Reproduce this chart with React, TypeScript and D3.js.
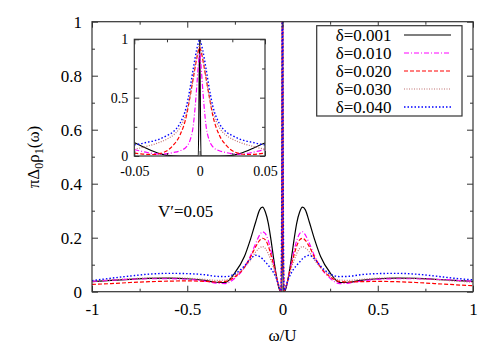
import { useEffect, useRef } from 'react';
import * as d3 from 'd3';

// main panel: omega/U grid and pi*Delta0*rho1 for each delta
const omegaMain = [
  -1, -0.9, -0.8, -0.7, -0.6, -0.5, -0.4, -0.35, -0.3, -0.25, -0.2, -0.17, -0.14, -0.12, -0.105, -0.09,
  -0.075, -0.06, -0.045, -0.03, -0.018, -0.008, -0.003, 0, 0.003, 0.008, 0.018, 0.03, 0.045, 0.06, 0.075,
  0.09, 0.105, 0.12, 0.14, 0.17, 0.2, 0.25, 0.3, 0.35, 0.4, 0.5, 0.6, 0.7, 0.8, 0.9, 1,
];
const mainD001 = [
  0.037, 0.042, 0.046, 0.049, 0.05, 0.048, 0.041, 0.035, 0.034, 0.07, 0.13, 0.19, 0.26, 0.303, 0.313, 0.295,
  0.255, 0.19, 0.115, 0.05, 0.012, 0.0, 0.0, 1.3, 0.0, 0.0, 0.012, 0.05, 0.115, 0.19, 0.255,
  0.295, 0.313, 0.303, 0.26, 0.19, 0.13, 0.07, 0.034, 0.035, 0.041, 0.048, 0.05, 0.049, 0.046, 0.042, 0.038,
];
const mainD010 = [
  0.038, 0.043, 0.046, 0.048, 0.048, 0.046, 0.038, 0.032, 0.03, 0.05, 0.09, 0.13, 0.18, 0.21, 0.222, 0.215,
  0.19, 0.15, 0.1, 0.05, 0.015, 0.002, 0.25, 1.3, 0.25, 0.002, 0.015, 0.05, 0.1, 0.15, 0.19,
  0.215, 0.222, 0.21, 0.18, 0.13, 0.09, 0.05, 0.03, 0.032, 0.038, 0.046, 0.048, 0.048, 0.046, 0.043, 0.038,
];
const mainD020 = [
  0.027, 0.03, 0.034, 0.037, 0.039, 0.04, 0.038, 0.036, 0.038, 0.055, 0.09, 0.125, 0.168, 0.19, 0.198, 0.192,
  0.17, 0.135, 0.095, 0.05, 0.017, 0.003, 0.35, 1.3, 0.35, 0.003, 0.017, 0.05, 0.095, 0.135, 0.17,
  0.192, 0.198, 0.19, 0.168, 0.125, 0.09, 0.055, 0.038, 0.036, 0.037, 0.038, 0.037, 0.034, 0.03, 0.026, 0.022,
];
const mainD030 = [
  0.038, 0.044, 0.048, 0.051, 0.052, 0.05, 0.045, 0.042, 0.043, 0.06, 0.09, 0.115, 0.148, 0.162, 0.167, 0.16,
  0.142, 0.115, 0.085, 0.048, 0.018, 0.004, 0.45, 1.3, 0.45, 0.004, 0.018, 0.048, 0.085, 0.115, 0.142,
  0.16, 0.167, 0.162, 0.148, 0.115, 0.09, 0.06, 0.043, 0.042, 0.045, 0.05, 0.051, 0.049, 0.045, 0.04, 0.035,
];
const mainD040 = [
  0.041, 0.05, 0.058, 0.065, 0.068, 0.067, 0.062, 0.057, 0.056, 0.066, 0.095, 0.12, 0.135, 0.13, 0.122, 0.11,
  0.098, 0.085, 0.068, 0.045, 0.02, 0.005, 0.55, 1.3, 0.55, 0.005, 0.02, 0.045, 0.068, 0.085, 0.098,
  0.11, 0.122, 0.13, 0.135, 0.12, 0.095, 0.066, 0.056, 0.057, 0.062, 0.067, 0.068, 0.065, 0.058, 0.05, 0.044,
];

// inset: zoom on the central peak
const omegaInset = [
  -0.05, -0.045, -0.04, -0.035, -0.03, -0.025, -0.02, -0.015, -0.01, -0.0075, -0.005, -0.0025, -0.001, 0,
  0.001, 0.0025, 0.005, 0.0075, 0.01, 0.015, 0.02, 0.025, 0.03, 0.035, 0.04, 0.045, 0.05,
];
const insetD001 = [
  0.115, 0.088, 0.062, 0.038, 0.018, 0.006, 0.001, 0, 0, 0, 0, 0, 0, 1.0,
  0, 0, 0, 0, 0, 0, 0.001, 0.006, 0.018, 0.038, 0.062, 0.088, 0.112,
];
const insetD010 = [
  0.055, 0.042, 0.03, 0.02, 0.016, 0.02, 0.03, 0.045, 0.08, 0.13, 0.25, 0.55, 0.78, 0.88,
  0.78, 0.55, 0.25, 0.13, 0.08, 0.045, 0.03, 0.02, 0.016, 0.02, 0.03, 0.042, 0.055,
];
const insetD020 = [
  0.025, 0.018, 0.014, 0.013, 0.022, 0.045, 0.095, 0.18, 0.35, 0.5, 0.66, 0.82, 0.9, 0.93,
  0.9, 0.82, 0.66, 0.5, 0.35, 0.18, 0.095, 0.045, 0.022, 0.013, 0.014, 0.018, 0.025,
];
const insetD030 = [
  0.058, 0.07, 0.085, 0.1, 0.12, 0.145, 0.18, 0.245, 0.38, 0.5, 0.66, 0.84, 0.92, 0.95,
  0.92, 0.84, 0.66, 0.5, 0.38, 0.245, 0.18, 0.145, 0.12, 0.1, 0.085, 0.07, 0.058,
];
const insetD040 = [
  0.095, 0.105, 0.118, 0.13, 0.148, 0.175, 0.21, 0.28, 0.43, 0.57, 0.74, 0.9, 0.97, 1.0,
  0.97, 0.9, 0.74, 0.57, 0.43, 0.28, 0.21, 0.175, 0.148, 0.13, 0.118, 0.105, 0.095,
];

const legendLabels = ['δ=0.001', 'δ=0.010', 'δ=0.020', 'δ=0.030', 'δ=0.040'];
const mainTicksX = [-1, -0.5, 0, 0.5, 1];
const mainTicksY = [0, 0.2, 0.4, 0.6, 0.8, 1];
const insetTicksX = [-0.05, 0, 0.05];
const insetTicksY = [0, 0.5, 1];

const styles = [
  { color: '#000000', dash: null, width: 1.2 },
  { color: '#ff00ff', dash: '5,2,1,2', width: 1.2 },
  { color: '#ff0000', dash: '4,2', width: 1.2 },
  { color: '#c07070', dash: '1,1.5', width: 1.2 },
  { color: '#0000ff', dash: '1.5,2', width: 1.4 },
];

const FONT = '"Liberation Serif", "Times New Roman", serif';

export default function App() {
  const svgRef = useRef<SVGSVGElement>(null);

  useEffect(() => {
    if (!svgRef.current) return;
    const svg = d3.select(svgRef.current);
    svg.selectAll('*').remove();

    const mainSeries = [mainD001, mainD010, mainD020, mainD030, mainD040];
    const insetSeries = [insetD001, insetD010, insetD020, insetD030, insetD040];

    // main panel box
    const x = d3.scaleLinear().domain([-1, 1]).range([92, 473]);
    const y = d3.scaleLinear().domain([0, 1]).range([291.7, 21.7]);

    const defs = svg.append('defs');
    defs.append('clipPath').attr('id', 'clip-main')
      .append('rect').attr('x', 92).attr('y', 21.7).attr('width', 381).attr('height', 270);

    const drawAxes = (
      xs: d3.ScaleLinear<number, number>,
      ys: d3.ScaleLinear<number, number>,
      tx: number[], ty: number[], mx: number[], my: number[],
      fontSize: number, major: number, minor: number, padX: number, padY: number,
      fmtX: (d: number) => string,
    ) => {
      const [x0, x1] = xs.range();
      const [y0, y1] = ys.range();
      const mk = (axis: d3.Axis<d3.NumberValue>, tr: string, label: boolean) => {
        const g = svg.append('g').attr('transform', tr).call(axis);
        g.select('.domain').remove();
        g.selectAll('.tick line').attr('stroke', '#333');
        if (label) g.selectAll('text').attr('font-family', FONT).attr('font-size', fontSize).attr('fill', '#000');
        else g.selectAll('text').remove();
        return g;
      };
      // major ticks, inward on all sides
      mk(d3.axisBottom(xs).tickValues(tx).tickSize(-major).tickPadding(padX).tickFormat((d) => fmtX(+d)), `translate(0,${y0})`, true);
      mk(d3.axisTop(xs).tickValues(tx).tickSize(-major), `translate(0,${y1})`, false);
      mk(d3.axisLeft(ys).tickValues(ty).tickSize(-major).tickPadding(padY).tickFormat((d) => `${+d}`), `translate(${x0},0)`, true);
      mk(d3.axisRight(ys).tickValues(ty).tickSize(-major), `translate(${x1},0)`, false);
      // minor ticks
      mk(d3.axisBottom(xs).tickValues(mx).tickSize(-minor), `translate(0,${y0})`, false);
      mk(d3.axisTop(xs).tickValues(mx).tickSize(-minor), `translate(0,${y1})`, false);
      mk(d3.axisLeft(ys).tickValues(my).tickSize(-minor), `translate(${x0},0)`, false);
      mk(d3.axisRight(ys).tickValues(my).tickSize(-minor), `translate(${x1},0)`, false);
      svg.append('rect')
        .attr('x', x0).attr('y', y1).attr('width', x1 - x0).attr('height', y0 - y1)
        .attr('fill', 'none').attr('stroke', '#333').attr('stroke-width', 1.2);
    };

    const lineMain = d3.line<number>()
      .x((_, i) => x(omegaMain[i]))
      .y((d) => y(d))
      .curve(d3.curveMonotoneX);

    const gMain = svg.append('g').attr('clip-path', 'url(#clip-main)');
    mainSeries.forEach((s, i) => {
      gMain.append('path')
        .attr('d', lineMain(s))
        .attr('fill', 'none')
        .attr('stroke', styles[i].color)
        .attr('stroke-width', styles[i].width)
        .attr('stroke-dasharray', styles[i].dash);
    });

    drawAxes(x, y, mainTicksX, mainTicksY, [-0.75, -0.25, 0.25, 0.75], [0.1, 0.3, 0.5, 0.7, 0.9],
      17, 6, 3, 11, 10, (d) => `${d}`);

    // labels
    svg.append('text')
      .attr('x', 282.5).attr('y', 341)
      .attr('text-anchor', 'middle')
      .attr('font-family', FONT).attr('font-size', 17)
      .text('ω/U');

    const yl = svg.append('text')
      .attr('transform', 'translate(39,157) rotate(-90)')
      .attr('text-anchor', 'middle')
      .attr('font-family', FONT).attr('font-size', 17);
    yl.append('tspan').text('πΔ');
    yl.append('tspan').attr('font-size', 12).attr('dy', 4).text('0');
    yl.append('tspan').attr('dy', -4).text('ρ');
    yl.append('tspan').attr('font-size', 12).attr('dy', 4).text('1');
    yl.append('tspan').attr('dy', -4).text('(ω)');

    svg.append('text')
      .attr('x', 158).attr('y', 217)
      .attr('font-family', FONT).attr('font-size', 17)
      .text('V′=0.05');

    // inset
    const xi = d3.scaleLinear().domain([-0.05, 0.05]).range([134.3, 265]);
    const yi = d3.scaleLinear().domain([0, 1]).range([156, 39.3]);
    svg.append('rect')
      .attr('x', 134.3).attr('y', 39.3).attr('width', 130.7).attr('height', 116.7)
      .attr('fill', '#fff');
    defs.append('clipPath').attr('id', 'clip-inset')
      .append('rect').attr('x', 134.3).attr('y', 39.3).attr('width', 130.7).attr('height', 116.7);

    const lineInset = d3.line<number>()
      .x((_, i) => xi(omegaInset[i]))
      .y((d) => yi(d))
      .curve(d3.curveMonotoneX);
    const gInset = svg.append('g').attr('clip-path', 'url(#clip-inset)');
    insetSeries.forEach((s, i) => {
      gInset.append('path')
        .attr('d', lineInset(s))
        .attr('fill', 'none')
        .attr('stroke', styles[i].color)
        .attr('stroke-width', styles[i].width)
        .attr('stroke-dasharray', styles[i].dash);
    });

    drawAxes(xi, yi, insetTicksX, insetTicksY, [-0.025, 0.025], [0.25, 0.75],
      14, 5, 3, 10, 6, (d) => `${d}`);

    // legend
    const lg = svg.append('g');
    lg.append('rect')
      .attr('x', 316.7).attr('y', 25.7).attr('width', 145.3).attr('height', 90.3)
      .attr('fill', '#fff').attr('stroke', '#333').attr('stroke-width', 1.2);
    legendLabels.forEach((lab, i) => {
      const cy = 35 + i * 18;
      lg.append('text')
        .attr('x', 391.5).attr('y', cy)
        .attr('dy', '0.35em')
        .attr('text-anchor', 'end')
        .attr('font-family', FONT).attr('font-size', 17)
        .text(lab);
      lg.append('line')
        .attr('x1', 404).attr('x2', 451).attr('y1', cy).attr('y2', cy)
        .attr('stroke', styles[i].color)
        .attr('stroke-width', styles[i].width)
        .attr('stroke-dasharray', styles[i].dash);
    });
  }, []);

  return (
    <svg
      ref={svgRef}
      width={500}
      height={350}
      style={{ position: 'absolute', left: 0, top: 0, background: '#fff' }}
    />
  );
}
